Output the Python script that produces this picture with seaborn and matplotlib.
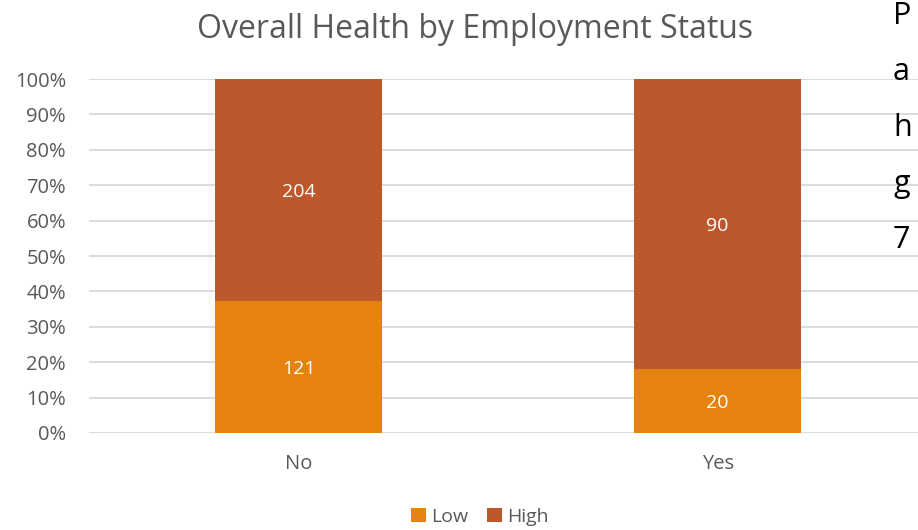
import numpy as np
import pandas as pd

import matplotlib
matplotlib.use("Agg")
import matplotlib.pyplot as plt
from matplotlib.patches import Patch
from matplotlib.ticker import PercentFormatter
import seaborn as sns

# chart data
status = ["No", "Yes"]
low_counts = [121, 20]
high_counts = [204, 90]
series_names = ["Low", "High"]
stray_letters = ["P", "a", "h", "g", "7"]

LOW_COLOR = "#E6830F"
HIGH_COLOR = "#BD582C"
GRID_COLOR = "#D9D9D9"
TEXT_COLOR = "#595959"

sns.set_theme(style="white")
plt.rcParams["font.family"] = ["Open Sans", "DejaVu Sans"]

df = pd.DataFrame({"status": status, "low": low_counts, "high": high_counts})
df["total"] = df["low"] + df["high"]
df["low_pct"] = df["low"] / df["total"] * 100
df["top_pct"] = 100.0

fig = plt.figure(figsize=(9.18, 5.30), dpi=100)
ax = fig.add_axes([89 / 918, 97 / 530, 829 / 918, 354 / 530])

# stacked bars: full-height High behind, Low in front
sns.barplot(data=df, x="status", y="top_pct", color=HIGH_COLOR, width=0.4,
            saturation=1, linewidth=0, ax=ax, zorder=3)
sns.barplot(data=df, x="status", y="low_pct", color=LOW_COLOR, width=0.4,
            saturation=1, linewidth=0, ax=ax, zorder=3)

for i, row in df.iterrows():
    ax.text(i, row["low_pct"] / 2, f"{row['low']}", ha="center",
            va="center_baseline", color="white", fontsize=14, zorder=4)
    ax.text(i, row["low_pct"] + (100 - row["low_pct"]) / 2, f"{row['high']}",
            ha="center", va="center_baseline", color="white", fontsize=14, zorder=4)

ax.set_xlim(-0.5, 1.478)
ax.set_ylim(0, 100)
ax.set_yticks(np.arange(0, 101, 10))
ax.yaxis.set_major_formatter(PercentFormatter(decimals=0))
ax.yaxis.grid(True, color=GRID_COLOR, linewidth=1.3, zorder=0)
ax.set_axisbelow(True)
for s in ax.spines.values():
    s.set_visible(False)
ax.tick_params(axis="both", length=0, labelsize=14.5, colors=TEXT_COLOR)
ax.tick_params(axis="y", pad=16.5)
ax.tick_params(axis="x", pad=15)
ax.set_xlabel("")
ax.set_ylabel("")

fig.text(475 / 918, 1 - 30 / 530, "Overall Health by Employment Status",
         ha="center", va="center", fontsize=23, color=TEXT_COLOR)

handles = [Patch(facecolor=LOW_COLOR, edgecolor="none"),
           Patch(facecolor=HIGH_COLOR, edgecolor="none")]
fig.legend(handles, series_names, loc="center", bbox_to_anchor=(480 / 918, 1 - 517 / 530),
           ncol=2, frameon=False, fontsize=14, handlelength=0.75, handleheight=0.75,
           handletextpad=0.25, columnspacing=1.0, labelcolor=TEXT_COLOR)

# overlapping text from the surrounding page, at the right edge
for k, letter in enumerate(stray_letters):
    fig.text(893 / 918, 1 - (16 + 56 * k) / 530, letter, ha="left", va="center",
             fontsize=22, color="black")

fig.savefig("out.png", dpi=100)
